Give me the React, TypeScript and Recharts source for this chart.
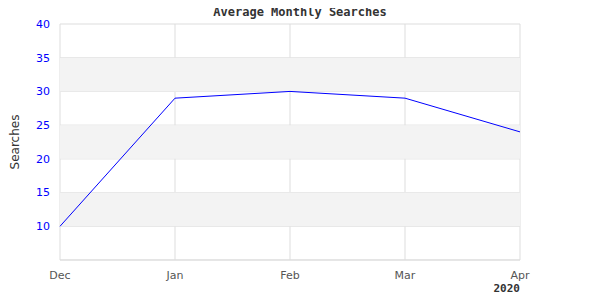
import React from "react";
import {
  LineChart,
  Line,
  XAxis,
  YAxis,
  CartesianGrid,
  ReferenceArea,
  Label,
} from "recharts";

const months = ["Dec", "Jan", "Feb", "Mar", "Apr"];
const searches = [10, 29, 30, 29, 24];
const yTicks = [10, 15, 20, 25, 30, 35, 40];
const shadedBands = [
  [10, 15],
  [20, 25],
  [30, 35],
];
const yearLabel = "2020";

const data = months.map((m, i) => ({ month: m, searches: searches[i] }));

const mono = "'DejaVu Sans Mono', monospace";
const sans = "'DejaVu Sans', sans-serif";

export default function App() {
  return (
    <div style={{ position: "relative", width: 600, height: 300, margin: -8, background: "#fff" }}>
      <LineChart
        width={600}
        height={300}
        data={data}
        margin={{ top: 24, right: 80, bottom: 0, left: 0 }}
      >
        {shadedBands.map(([lo, hi]) => (
          <ReferenceArea
            key={lo}
            y1={lo}
            y2={hi}
            fill="#f3f3f3"
            fillOpacity={1}
            stroke="none"
            ifOverflow="hidden"
          />
        ))}
        <CartesianGrid stroke="#dddddd" horizontal vertical />
        <XAxis
          dataKey="month"
          scale="point"
          padding={{ left: 0, right: 0 }}
          height={40}
          tickLine={false}
          tickMargin={5}
          axisLine={{ stroke: "#dddddd" }}
          tick={{ fill: "#555555", fontSize: 11, fontFamily: sans }}
          interval={0}
        />
        <YAxis
          domain={[5, 40]}
          ticks={yTicks}
          width={60}
          tickLine={false}
          axisLine={false}
          tickMargin={4}
          tick={{ fill: "#0000ff", fontSize: 11, fontFamily: sans }}
        >
          <Label
            value="Searches"
            content={(props: any) => {
              const vb = props.viewBox || {};
              const cx = vb.x + 15;
              const cy = vb.y + vb.height / 2;
              return (
                <text
                  x={cx}
                  y={cy}
                  transform={`rotate(-90 ${cx} ${cy})`}
                  textAnchor="middle"
                  dominantBaseline="central"
                  style={{ fontFamily: sans, fontSize: 12, fill: "#333" }}
                >
                  Searches
                </text>
              );
            }}
          />
        </YAxis>
        <Line
          type="linear"
          dataKey="searches"
          stroke="#0000ff"
          strokeWidth={1}
          dot={false}
          activeDot={false}
          isAnimationActive={false}
        />
      </LineChart>
      <div
        style={{
          position: "absolute",
          top: 5,
          left: 0,
          width: 600,
          textAlign: "center",
          fontFamily: mono,
          fontWeight: "bold",
          fontSize: 12,
          color: "#333",
        }}
      >
        Average Monthly Searches
      </div>
      <div
        style={{
          position: "absolute",
          top: 282,
          left: 420,
          width: 100,
          textAlign: "right",
          fontFamily: mono,
          fontWeight: "bold",
          fontSize: 11,
          lineHeight: "13px",
          color: "#333",
        }}
      >
        {yearLabel}
      </div>
    </div>
  );
}
